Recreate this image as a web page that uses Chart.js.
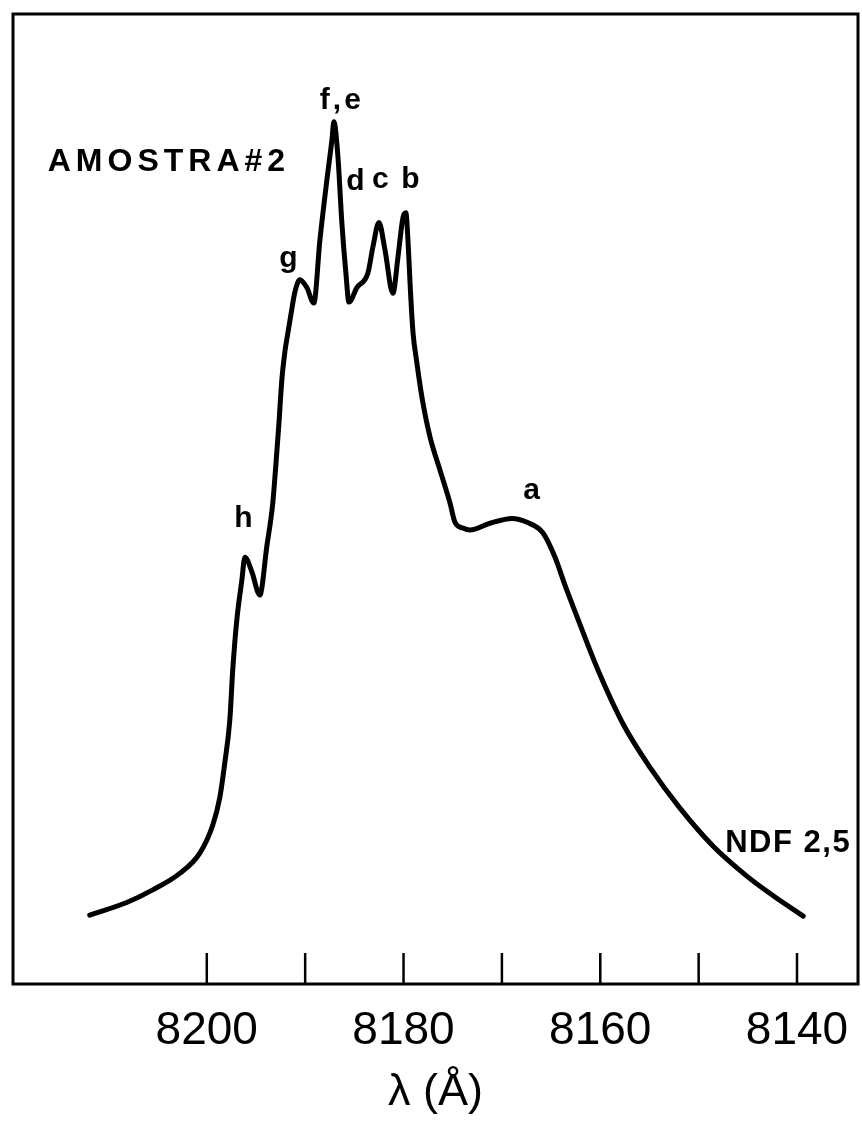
<!DOCTYPE html>
<html lang="pt">
<head>
<meta charset="utf-8">
<title>AMOSTRA#2</title>
<script src="https://cdn.jsdelivr.net/npm/chart.js@4"></script>
<style>
  html, body { margin: 0; padding: 0; background: #fff; }
  canvas { display: block; }
</style>
</head>
<body>
<canvas id="espectro" width="862" height="1123"></canvas>
<script>
// --- 1. DADOS DO ESPECTRO ---
// comprimento de onda (Å), do lado de 8200 para 8140
const wavelength = [
  8211.9, 8208.14, 8205.49, 8202.75, 8200.71, 8199.39, 8198.68, 8198.17, 8197.66,
  8197.36, 8196.95, 8196.44, 8196.13, 8195.42, 8194.61, 8193.9, 8193.29, 8192.98,
  8192.68, 8192.37, 8192.07, 8191.76, 8191.45, 8191.05, 8190.54, 8189.83, 8189.12,
  8188.5, 8187.79, 8187.28, 8187.08, 8186.67, 8186.27, 8185.86, 8185.55, 8184.74,
  8183.62, 8183.11, 8182.5, 8181.89, 8181.08, 8180.57, 8180.06, 8179.76, 8179.55,
  8179.3, 8179.04, 8178.64, 8178.13, 8177.31, 8176.3, 8175.28, 8174.77, 8173.96,
  8173.25, 8171.21, 8168.97, 8167.45, 8165.82, 8164.6, 8163.58, 8162.26, 8160.33,
  8157.68, 8154.93, 8151.88, 8148.52, 8145.07, 8142.42, 8139.37
];
// intensidade (unidades arbitrarias)
const intensity = [
  7.1, 8.4, 9.7, 11.4, 13.5, 16.4, 19.2, 22.8, 27.2,
  32.4, 37.5, 41.6, 44.0, 42.5, 40.1, 45.1, 49.6, 53.5,
  57.6, 62.3, 65.1, 67.1, 69.0, 71.3, 72.6, 71.8, 70.2,
  76.7, 82.9, 87.0, 88.9, 85.3, 78.5, 73.3, 70.3, 71.8,
  73.3, 76.0, 78.5, 75.7, 71.2, 74.9, 79.0, 79.5, 76.7,
  71.5, 67.2, 64.0, 60.5, 56.4, 53.0, 49.6, 47.6, 47.0,
  46.8, 47.5, 48.0, 47.6, 46.5, 44.0, 41.1, 37.6, 32.6,
  26.8, 22.3, 18.1, 14.2, 11.1, 9.1, 7.0
];

// marcas do eixo (a cada 10 Å), rotulo a cada 20 Å
const tickValues = [8200, 8190, 8180, 8170, 8160, 8150, 8140];
const tickLabels = ["8200", "", "8180", "", "8160", "", "8140"];

// nomes dos picos e onde ficam escritos (λ, intensidade)
const peakNames = ["f,e", "d", "c", "b", "g", "h", "a"];
const peakLambda = [8186.27, 8184.74, 8182.2, 8179.15, 8191.56, 8196.13, 8166.84];
const peakLevel = [91.1, 82.7, 82.9, 82.9, 74.8, 48.0, 50.9];

// textos soltos (alinhados a esquerda)
const noteTexts = ["AMOSTRA#2", "NDF 2,5"];
const noteLambda = [8216.17, 8147.3];
const noteLevel = [84.7, 14.5];

// --- 2. PLUGIN: MOLDURA, MARCAS E ROTULOS ---
const moldura = {
  id: "moldura",
  afterDatasetsDraw(chart) {
    const { ctx, chartArea: a, scales } = chart;
    const sx = scales.x;
    const sy = scales.y;
    ctx.save();
    ctx.strokeStyle = "#000";
    ctx.lineWidth = 3;
    ctx.strokeRect(a.left, a.top, a.right - a.left, a.bottom - a.top);

    // marcas para dentro, saindo do eixo de baixo
    ctx.lineWidth = 2.5;
    sx.ticks.forEach((t) => {
      const px = sx.getPixelForValue(t.value);
      ctx.beginPath();
      ctx.moveTo(px, a.bottom);
      ctx.lineTo(px, a.bottom - 31);
      ctx.stroke();
    });

    ctx.fillStyle = "#000";
    ctx.textBaseline = "middle";
    ctx.textAlign = "center";
    ctx.font = "bold 30px 'Liberation Sans', Arial, sans-serif";
    ctx.letterSpacing = "3px";
    peakNames.forEach((name, i) => {
      ctx.fillText(name, sx.getPixelForValue(peakLambda[i]), sy.getPixelForValue(peakLevel[i]));
    });

    ctx.textAlign = "left";
    ctx.font = "bold 32px 'Liberation Sans', Arial, sans-serif";
    ctx.letterSpacing = "5px";
    ctx.fillText(noteTexts[0], sx.getPixelForValue(noteLambda[0]), sy.getPixelForValue(noteLevel[0]));
    ctx.font = "bold 31px 'Liberation Sans', Arial, sans-serif";
    ctx.letterSpacing = "1.5px";
    ctx.fillText(noteTexts[1], sx.getPixelForValue(noteLambda[1]), sy.getPixelForValue(noteLevel[1]));
    ctx.restore();
  },
};

// --- 3. GRAFICO ---
const ctxEspectro = document.getElementById("espectro").getContext("2d");
new Chart(ctxEspectro, {
  type: "line",
  data: {
    datasets: [
      {
        data: wavelength.map((w, i) => ({ x: w, y: intensity[i] })),
        borderColor: "#000",
        borderWidth: 5,
        pointRadius: 0,
        fill: false,
        cubicInterpolationMode: "monotone",
        borderCapStyle: "round",
        borderJoinStyle: "round",
      },
    ],
  },
  options: {
    responsive: false,
    animation: false,
    layout: { padding: { left: 13, right: 4, top: 14, bottom: 0 } },
    plugins: { legend: { display: false }, tooltip: { enabled: false } },
    scales: {
      x: {
        type: "linear",
        reverse: true,
        min: 8133.8,
        max: 8219.7,
        grid: { display: false, drawTicks: false },
        border: { display: false },
        afterBuildTicks: (s) => {
          s.ticks = tickValues.map((v) => ({ value: v }));
        },
        afterFit: (s) => {
          // o rotulo 8140 pode passar da moldura, sem encolher a area
          s.height = 139;
          s.paddingLeft = 0;
          s.paddingRight = 0;
        },
        ticks: {
          autoSkip: false,
          maxRotation: 0,
          padding: 20,
          color: "#000",
          font: { family: "'Liberation Sans', sans-serif", size: 46 },
          callback: (v) => tickLabels[tickValues.indexOf(v)] || "",
        },
        title: {
          display: true,
          text: "λ (Å)",
          color: "#000",
          padding: { top: 0, bottom: 3 },
          font: { family: "'Liberation Sans', sans-serif", size: 45 },
        },
      },
      y: {
        display: false,
        min: 0,
        max: 100,
      },
    },
  },
  plugins: [moldura],
});
</script>
</body>
</html>
